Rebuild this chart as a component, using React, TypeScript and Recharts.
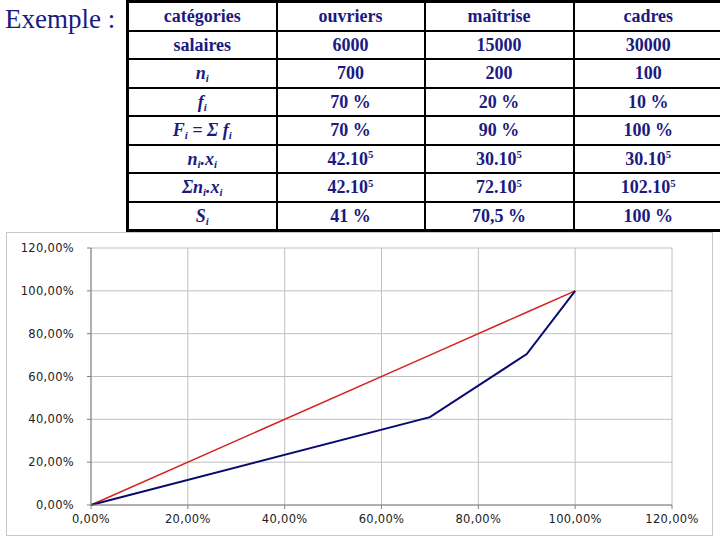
import React from "react";
import { CartesianGrid, Line, LineChart, XAxis, YAxis } from "recharts";

// categories and table values
const categories = ["ouvriers", "maîtrise", "cadres"];
const salaires = [6000, 15000, 30000];
const effectifs = [700, 200, 100];
const freq = ["70 %", "20 %", "10 %"];
const cumFreqLabels = ["70 %", "90 %", "100 %"];
const masse = ["42", "30", "30"]; // x 10^5
const cumMasse = ["42", "72", "102"]; // x 10^5
const cumShareLabels = ["41 %", "70,5 %", "100 %"];

// Lorenz curve points (in %)
const cumFreq = [0, 70, 90, 100];
const cumShare = [0, 41, 70.5, 100];
const axisTicks = [0, 20, 40, 60, 80, 100, 120];

const chartData = cumFreq.map((f, i) => ({ F: f, S: cumShare[i], eq: f }));

const NAVY = "#1a1a80";

const fmtPct = (v: number) => v.toFixed(2).replace(".", ",") + "%";

const tickStyle: React.CSSProperties = {
  fontSize: "11.5px",
  fontFamily: "'DejaVu Sans', sans-serif",
  letterSpacing: "0.3px",
};

const YTick = (props: any) => (
  <g transform={`translate(${props.x},${props.y})`}>
    <text x={0} y={0} dy="0.36em" textAnchor="end" fill="#222" style={tickStyle}>
      {fmtPct(props.payload.value)}
    </text>
  </g>
);
const XTick = (props: any) => (
  <g transform={`translate(${props.x},${props.y})`}>
    <text x={0} y={0} dy="0.72em" textAnchor="middle" fill="#222" style={tickStyle}>
      {fmtPct(props.payload.value)}
    </text>
  </g>
);

const Sub = ({ children }: { children: React.ReactNode }) => (
  <span style={{ fontSize: "0.6em", position: "relative", top: "0.3em", fontStyle: "italic" }}>{children}</span>
);
const Sup = ({ children }: { children: React.ReactNode }) => (
  <span style={{ fontSize: "0.6em", position: "relative", top: "-0.6em" }}>{children}</span>
);
const Pow = ({ m }: { m: string }) => (
  <>
    {m}.10<Sup>5</Sup>
  </>
);

const rows: { label: React.ReactNode; cells: React.ReactNode[] }[] = [
  { label: "catégories", cells: categories },
  { label: "salaires", cells: salaires.map(String) },
  { label: <i>n<Sub>i</Sub></i>, cells: effectifs.map(String) },
  { label: <i>f<Sub>i</Sub></i>, cells: freq },
  {
    label: (
      <i>
        F<Sub>i</Sub> = Σ f<Sub>i</Sub>
      </i>
    ),
    cells: cumFreqLabels,
  },
  {
    label: (
      <i>
        n<Sub>i</Sub>.x<Sub>i</Sub>
      </i>
    ),
    cells: masse.map((m) => <Pow m={m} />),
  },
  {
    label: (
      <i>
        Σn<Sub>i</Sub>.x<Sub>i</Sub>
      </i>
    ),
    cells: cumMasse.map((m) => <Pow m={m} />),
  },
  { label: <i>S<Sub>i</Sub></i>, cells: cumShareLabels },
];

const cellStyle: React.CSSProperties = {
  border: "2px solid #000",
  textAlign: "center",
  verticalAlign: "middle",
  height: 26.5,
  padding: 0,
  lineHeight: 1,
};

export default function App() {
  return (
    <div
      style={{
        position: "absolute",
        left: 0,
        top: 0,
        width: 720,
        height: 540,
        overflow: "hidden",
        background: "#fff",
      }}
    >
      <div
        style={{
          position: "absolute",
          left: 5,
          top: 6,
          fontFamily: "'Liberation Serif', serif",
          fontSize: 27,
          color: NAVY,
          lineHeight: 1,
        }}
      >
        Exemple :
      </div>

      <table
        style={{
          position: "absolute",
          left: 126,
          top: 0,
          width: 596,
          borderCollapse: "collapse",
          tableLayout: "fixed",
          border: "3px solid #000",
          fontFamily: "'Liberation Serif', serif",
          fontWeight: "bold",
          fontSize: 18,
          color: NAVY,
        }}
      >
        <colgroup>
          <col style={{ width: 149 }} />
          <col style={{ width: 148 }} />
          <col style={{ width: 149 }} />
          <col style={{ width: 150 }} />
        </colgroup>
        <tbody>
          {rows.map((r, ri) => (
            <tr key={ri}>
              <td style={cellStyle}>{r.label}</td>
              {r.cells.map((c, ci) => (
                <td key={ci} style={cellStyle}>
                  {c}
                </td>
              ))}
            </tr>
          ))}
        </tbody>
      </table>

      <div
        style={{
          position: "absolute",
          left: 6,
          top: 232,
          width: 707,
          height: 304,
          boxSizing: "border-box",
          border: "1px solid #c8c8c8",
        }}
      />

      <div style={{ position: "absolute", left: 6, top: 232 }}>
        <LineChart width={707} height={304} data={chartData} margin={{ top: 16, right: 41, bottom: 1, left: 0 }}>
          <CartesianGrid stroke="#c0c0c0" />
          <XAxis
            type="number"
            dataKey="F"
            domain={[0, 120]}
            ticks={axisTicks}
            height={30}
            tickSize={4}
            tickMargin={6}
            stroke="#808080"
            tick={XTick}
          />
          <YAxis
            type="number"
            domain={[0, 120]}
            ticks={axisTicks}
            width={85}
            tickSize={4}
            tickMargin={13}
            stroke="#808080"
            tick={YTick}
          />
          <Line
            type="linear"
            dataKey="eq"
            stroke="#d42222"
            strokeWidth={1.5}
            dot={false}
            isAnimationActive={false}
          />
          <Line
            type="linear"
            dataKey="S"
            stroke="#0a0a6e"
            strokeWidth={2}
            dot={false}
            isAnimationActive={false}
          />
        </LineChart>
      </div>
    </div>
  );
}
